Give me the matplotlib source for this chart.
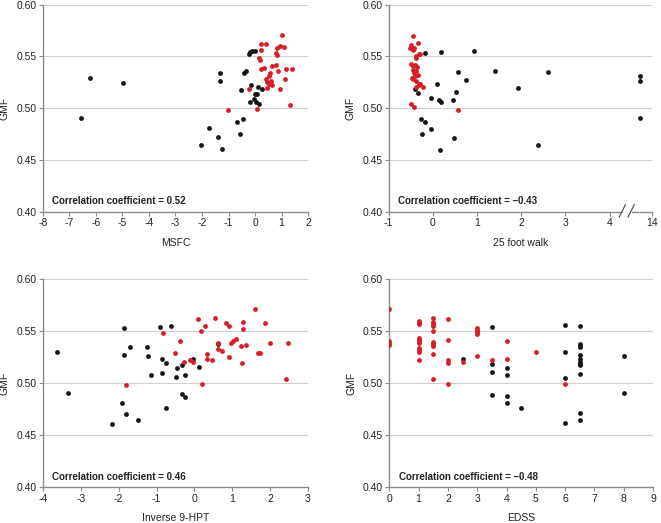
import numpy as np
import matplotlib
matplotlib.use("Agg")
import matplotlib.pyplot as plt

plt.rcParams['font.family'] = ['Liberation Sans', 'DejaVu Sans']
plt.rcParams['font.size'] = 7.5
plt.rcParams['axes.unicode_minus'] = False

RED = '#d71e26'
BLACK = '#151515'
AXIS = '#8a8a8a'
GRID = '#cfcfcf'

# ---- MSFC ----
msfc_black_x = [-6.57, -6.21, -4.97, -2.02, -1.75, -1.41, -1.24, -1.31, -1.31, -0.67,
                -0.46, -0.58, -0.54, -0.43, -0.35, -0.23, -0.18, -0.10, -0.01, -0.14,
                -0.18, -0.04, 0.01, 0.08, 0.05, 0.15, 0.13, 0.26]
msfc_black_y = [0.491, 0.529, 0.524, 0.465, 0.481, 0.472, 0.461, 0.534, 0.526, 0.487,
                0.490, 0.475, 0.518, 0.534, 0.536, 0.552, 0.554, 0.555, 0.555, 0.522,
                0.506, 0.509, 0.514, 0.514, 0.506, 0.504, 0.521, 0.519]
msfc_red_x = [1.00, 0.24, 0.43, 0.24, 0.14, 0.18, 0.83, 0.93, 1.09, 0.80, 0.84, 0.24,
              0.33, 0.65, 0.78, 0.88, 1.18, 1.39, 0.57, 0.52, 0.40, 0.45, 0.60, 0.54,
              0.64, 0.46, 1.12, -0.23, 0.93, -1.02, 0.06, 1.31]
msfc_red_y = [0.571, 0.562, 0.562, 0.556, 0.549, 0.547, 0.558, 0.560, 0.559, 0.553, 0.551, 0.538,
              0.539, 0.541, 0.542, 0.536, 0.538, 0.538, 0.534, 0.531, 0.528, 0.525, 0.526, 0.523,
              0.522, 0.520, 0.528, 0.519, 0.519, 0.498, 0.499, 0.503]

# ---- 25 foot walk ----
walk_black_x = [-0.17, 0.18, 0.93, 0.57, 0.74, 1.40, 1.92, 2.60, -0.40, -0.31, -0.33, -0.05,
                0.10, 0.13, 0.18, 0.52, 0.46, -0.26, -0.17, -0.05, -0.25, 0.49, 0.16, 2.38,
                13.72, 13.72, 13.72]
walk_black_y = [0.553, 0.554, 0.555, 0.535, 0.527, 0.536, 0.520, 0.535, 0.519, 0.523, 0.515, 0.510,
                0.523, 0.508, 0.506, 0.516, 0.508, 0.490, 0.487, 0.480, 0.475, 0.471, 0.460, 0.465,
                0.531, 0.526, 0.491]
walk_red_x = [-0.46, -0.33, -0.50, -0.52, -0.43, -0.46, -0.37, -0.31, -0.28, -0.38, -0.50, -0.46,
              -0.40, -0.35, -0.46, -0.42, -0.37, -0.33, -0.40, -0.48, -0.44, -0.37, -0.28, -0.22,
              -0.31, -0.37, -0.50, -0.43, 0.56]
walk_red_y = [0.570, 0.563, 0.561, 0.558, 0.558, 0.556, 0.550, 0.552, 0.552, 0.549, 0.543, 0.541,
              0.542, 0.540, 0.537, 0.534, 0.536, 0.532, 0.531, 0.529, 0.528, 0.526, 0.523, 0.521,
              0.522, 0.521, 0.504, 0.501, 0.498]

# ---- Inverse 9-HPT ----
hpt_black_x = [-3.62, -3.33, -2.19, -1.91, -1.82, -1.49, -1.86, -1.86, -1.69, -1.26, -1.22, -1.15,
               -0.91, -0.63, -0.85, -0.75, -0.85, -0.74, -0.48, -0.45, -0.32, -0.32, -0.26, -0.25,
               -0.05, 0.11, 0.63]
hpt_black_y = [0.530, 0.491, 0.461, 0.481, 0.471, 0.465, 0.553, 0.527, 0.535, 0.535, 0.526, 0.508,
               0.554, 0.555, 0.523, 0.520, 0.510, 0.476, 0.506, 0.515, 0.518, 0.490, 0.487, 0.508,
               0.523, 0.516, 0.538]
hpt_red_x = [-1.82, -0.82, -0.39, -0.52, -0.28, -0.13, -0.03, 0.09, 0.18, 0.28, 0.20, 0.32,
             0.32, 0.47, 0.55, 0.61, 0.61, 0.72, 0.83, 0.92, 0.90, 0.96, 1.01, 1.09,
             1.22, 1.26, 1.28, 1.28, 1.36, 1.61, 1.67, 1.74, 1.87, 2.00, 2.41, 2.46]
hpt_red_y = [0.498, 0.548, 0.541, 0.529, 0.521, 0.522, 0.521, 0.562, 0.550, 0.555, 0.499, 0.528,
             0.523, 0.522, 0.563, 0.539, 0.533, 0.531, 0.558, 0.555, 0.525, 0.539, 0.541, 0.543,
             0.536, 0.520, 0.559, 0.552, 0.537, 0.571, 0.529, 0.529, 0.558, 0.539, 0.504, 0.539]

# ---- EDSS ----
edss_black_x = [2.5, 3.5, 3.5, 3.5, 3.5, 4, 4, 4, 4, 4.5, 6, 6, 6, 6,
                6.5, 6.5, 6.5, 6.5, 6.5, 6.5, 6.5, 6.5, 6.5, 6.5, 6.5, 6.5, 8, 8]
edss_black_y = [0.523, 0.554, 0.519, 0.511, 0.489, 0.515, 0.508, 0.488, 0.481, 0.476,
                0.556, 0.530, 0.505, 0.462,
                0.555, 0.538, 0.536, 0.535, 0.527, 0.523, 0.521, 0.519, 0.518, 0.509, 0.472, 0.465,
                0.526, 0.491]
edss_red_x = [0, 0, 0, 0, 1, 1, 1, 1, 1, 1, 1, 1, 1, 1, 1,
              1.5, 1.5, 1.5, 1.5, 1.5, 1.5, 1.5, 1.5, 1.5, 1.5,
              2, 2, 2, 2, 2, 2.5, 3, 3, 3, 3, 3, 3.5, 4, 4, 5, 6]
edss_red_y = [0.571, 0.541, 0.539, 0.537,
              0.560, 0.558, 0.557, 0.544, 0.542, 0.540, 0.539, 0.534, 0.532, 0.530, 0.522,
              0.563, 0.559, 0.557, 0.555, 0.550, 0.540, 0.538, 0.536, 0.528, 0.504,
              0.562, 0.542, 0.522, 0.520, 0.499, 0.521,
              0.553, 0.551, 0.549, 0.547, 0.526, 0.522, 0.541, 0.523, 0.530, 0.499]

# broken axis in the 25 foot walk panel: 14 is drawn at 4.97
def walk_pos(x):
    x = np.asarray(x, dtype=float)
    return np.where(x > 10, 4.97 - (14 - x), x)


def style(ax, xlabel, xlim, xticks, r_text):
    ax.set_ylim(0.40, 0.60)
    ax.set_xlim(*xlim)
    ax.set_yticks([0.40, 0.45, 0.50, 0.55, 0.60])
    ax.set_yticklabels(['0.40', '0.45', '0.50', '0.55', '0.60'])
    ax.set_xticks(xticks)
    for y in [0.45, 0.50, 0.55, 0.60]:
        ax.axhline(y, color=GRID, lw=0.8, zorder=0)
    for s in ['top', 'right']:
        ax.spines[s].set_visible(False)
    for s in ['left', 'bottom']:
        ax.spines[s].set_color(AXIS)
        ax.spines[s].set_linewidth(1.0)
    ax.tick_params(length=3, width=0.8, color=AXIS, pad=1.5, labelsize=7.5, labelcolor='#222222')
    ax.set_ylabel('GMF', fontsize=7.5, labelpad=5, color='#222222')
    ax.set_xlabel(xlabel, fontsize=7.5, labelpad=7, color='#222222')
    ax.text(0.035, 0.05, r_text, transform=ax.transAxes, fontsize=7,
            fontweight='bold', color='#222222', va='center')


fig = plt.figure(figsize=(6.61, 5.23), dpi=100)
ax1 = fig.add_axes([0.065, 0.595, 0.401, 0.396])
ax2 = fig.add_axes([0.588, 0.595, 0.399, 0.396])
ax3 = fig.add_axes([0.065, 0.068, 0.401, 0.398])
ax4 = fig.add_axes([0.589, 0.068, 0.399, 0.398])

ms = 12

ax1.scatter(msfc_black_x, msfc_black_y, s=ms, color=BLACK, lw=0, zorder=3)
ax1.scatter(msfc_red_x, msfc_red_y, s=ms, color=RED, lw=0, zorder=3)
style(ax1, 'MSFC', (-8, 2), range(-8, 3), 'Correlation coefficient = 0.52')

ax2.scatter(walk_pos(walk_black_x), walk_black_y, s=ms, color=BLACK, lw=0, zorder=3)
ax2.scatter(walk_pos(walk_red_x), walk_red_y, s=ms, color=RED, lw=0, zorder=3)
style(ax2, '25 foot walk', (-1, 4.97), [-1, 0, 1, 2, 3, 4, 4.97],
      'Correlation coefficient = \u20130.43')
ax2.set_xticklabels(['-1', '0', '1', '2', '3', '4', '14'])
# axis break
ax2.spines['bottom'].set_visible(False)
ax2.plot([-1, 4.25], [0, 0], color=AXIS, lw=1.0, transform=ax2.get_xaxis_transform(), clip_on=False)
ax2.plot([4.5, 4.97], [0, 0], color=AXIS, lw=1.0, transform=ax2.get_xaxis_transform(), clip_on=False)
for x0 in [4.22, 4.42]:
    ax2.plot([x0, x0 + 0.14], [-0.025, 0.035], color='#444444', lw=0.8,
             transform=ax2.get_xaxis_transform(), clip_on=False)

ax3.scatter(hpt_black_x, hpt_black_y, s=ms, color=BLACK, lw=0, zorder=3)
ax3.scatter(hpt_red_x, hpt_red_y, s=ms, color=RED, lw=0, zorder=3)
style(ax3, 'Inverse 9-HPT', (-4, 3), range(-4, 4), 'Correlation coefficient = 0.46')

ax4.scatter(edss_black_x, edss_black_y, s=ms, color=BLACK, lw=0, zorder=3)
ax4.scatter(edss_red_x, edss_red_y, s=ms, color=RED, lw=0, zorder=3)
style(ax4, 'EDSS', (0, 9), range(0, 10), 'Correlation coefficient = \u20130.48')

fig.savefig('out.png', dpi=100)
